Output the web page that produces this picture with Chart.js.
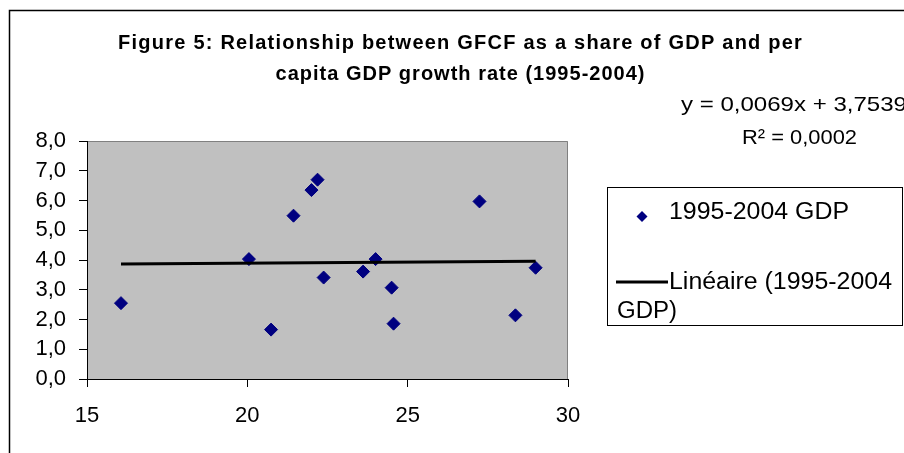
<!DOCTYPE html>
<html><head><meta charset="utf-8">
<script src="https://cdn.jsdelivr.net/npm/chart.js@4.4.1/dist/chart.umd.min.js"></script>
<style>html,body{margin:0;padding:0;background:#fff;}canvas{display:block;}</style>
</head><body>
<canvas id="c" width="904" height="453"></canvas>
<script>
// ---- data ----
const gfcfShare = [16.06, 20.05, 20.74, 21.44, 22.00, 22.19, 22.38, 23.61, 24.00, 24.50, 24.56, 27.24, 28.36, 28.99];
const gdpGrowth = [2.55, 4.03, 1.66, 5.49, 6.35, 6.70, 3.41, 3.61, 4.03, 3.07, 1.86, 5.97, 2.14, 3.74];
const xTicks = [15, 20, 25, 30];
const yTicks = [0, 1, 2, 3, 4, 5, 6, 7, 8];
const trendSlope = 0.0069;
const trendIntercept = 3.7539;
const titleLines = ['Figure 5: Relationship between GFCF as a share of GDP and per', 'capita GDP growth rate (1995-2004)'];
const seriesName = '1995-2004 GDP';
const trendNameLines = ['Linéaire (1995-2004', 'GDP)'];
const equationText = 'y = 0,0069x + 3,7539';
const r2Text = 'R² = 0,0002';

const points = gfcfShare.map((x, i) => ({x: x, y: gdpGrowth[i]}));
const xMin = Math.min(...gfcfShare), xMax = Math.max(...gfcfShare);
const trendPoints = [xMin, xMax].map(x => ({x: x, y: trendSlope * x + trendIntercept}));
const fmt = v => Number(v).toFixed(1).replace('.', ',');

function drawStretched(ctx, text, x, y, font, targetW) {
  ctx.save();
  ctx.font = font;
  const w = ctx.measureText(text).width;
  const sx = targetW ? targetW / w : 1;
  ctx.translate(x, y);
  ctx.scale(sx, 1);
  ctx.textAlign = 'left';
  ctx.textBaseline = 'alphabetic';
  ctx.fillText(text, 0, 0);
  ctx.restore();
}
function drawSpaced(ctx, text, cx, y, font, targetW) {
  ctx.save();
  ctx.font = font;
  ctx.letterSpacing = '0px';
  const w = ctx.measureText(text).width;
  const ls = (targetW - w) / text.length;
  ctx.letterSpacing = ls + 'px';
  const w2 = ctx.measureText(text).width;
  ctx.textAlign = 'left';
  ctx.textBaseline = 'alphabetic';
  ctx.fillText(text, cx - w2 / 2 + ls / 2, y);
  ctx.restore();
}

const decor = {
  id: 'decor',
  beforeDraw(chart) {
    const {ctx, chartArea: a} = chart;
    ctx.save();
    ctx.fillStyle = '#fff';
    ctx.fillRect(0, 0, chart.width, chart.height);
    ctx.fillStyle = '#C0C0C0';
    ctx.fillRect(a.left, a.top, a.right - a.left, a.bottom - a.top);
    ctx.strokeStyle = '#808080';
    ctx.lineWidth = 1;
    ctx.beginPath();
    ctx.moveTo(a.left, a.top + 0.5);
    ctx.lineTo(a.right - 0.5, a.top + 0.5);
    ctx.lineTo(a.right - 0.5, a.bottom);
    ctx.stroke();
    ctx.strokeStyle = '#000';
    ctx.lineWidth = 1.5;
    ctx.beginPath();
    ctx.moveTo(9.5, chart.height);
    ctx.lineTo(9.5, 10.5);
    ctx.lineTo(chart.width, 10.5);
    ctx.stroke();
    ctx.restore();
  },
  afterDraw(chart) {
    const ctx = chart.ctx;
    ctx.save();
    ctx.fillStyle = '#000';
    const tf = 'bold 20px "Liberation Sans", Arial, sans-serif';
    drawSpaced(ctx, titleLines[0], 460, 49, tf, 685);
    drawSpaced(ctx, titleLines[1], 460, 80, tf, 370);
    const rf = '21px "Liberation Sans", Arial, sans-serif';
    drawStretched(ctx, equationText, 681, 111, rf, 226);
    drawStretched(ctx, r2Text, 742, 144, rf, 115);
    // legend box
    ctx.strokeStyle = '#000';
    ctx.lineWidth = 1;
    ctx.strokeRect(607.5, 187.5, 295, 138);
    const lf = '23px "Liberation Sans", Arial, sans-serif';
    // marker
    const mx = 642, my = 216.5, mr = 5.5;
    ctx.fillStyle = '#000080';
    ctx.beginPath();
    ctx.moveTo(mx - mr, my); ctx.lineTo(mx, my - mr); ctx.lineTo(mx + mr, my); ctx.lineTo(mx, my + mr);
    ctx.closePath();
    ctx.fill();
    ctx.fillStyle = '#000';
    drawStretched(ctx, seriesName, 669, 219, lf, 180);
    ctx.strokeStyle = '#000';
    ctx.lineWidth = 3;
    ctx.beginPath();
    ctx.moveTo(616, 282); ctx.lineTo(668, 282);
    ctx.stroke();
    drawStretched(ctx, trendNameLines[0], 669, 289, lf, 223);
    drawStretched(ctx, trendNameLines[1], 617, 318, lf, 60);
    ctx.restore();
  }
};

new Chart(document.getElementById('c'), {
  type: 'scatter',
  data: {
    datasets: [
      {
        type: 'line',
        label: 'Linéaire (1995-2004 GDP)',
        data: trendPoints,
        borderColor: '#000',
        borderWidth: 3,
        pointRadius: 0,
        fill: false,
        tension: 0
      },
      {
        label: seriesName,
        data: points,
        pointStyle: 'rectRot',
        pointRadius: 6.5,
        pointHoverRadius: 6.5,
        backgroundColor: '#000080',
        borderColor: '#000080',
        borderWidth: 1
      }
    ]
  },
  options: {
    responsive: false,
    animation: false,
    devicePixelRatio: 1,
    layout: {padding: {left: 0, top: 141, right: 336, bottom: 0}},
    plugins: {legend: {display: false}, title: {display: false}, tooltip: {enabled: false}},
    scales: {
      x: {
        type: 'linear',
        min: xTicks[0], max: xTicks[xTicks.length - 1],
        afterBuildTicks: s => { s.ticks = xTicks.map(v => ({value: v})); },
        afterFit: s => { s.height = 74; },
        ticks: {color: '#000', font: {family: '"Liberation Sans", Arial, sans-serif', size: 22}, padding: 16, maxRotation: 0},
        grid: {drawOnChartArea: false, drawTicks: true, tickLength: 8, color: '#000'},
        border: {display: true, color: '#000', width: 1}
      },
      y: {
        type: 'linear',
        min: yTicks[0], max: yTicks[yTicks.length - 1],
        afterBuildTicks: s => { s.ticks = yTicks.map(v => ({value: v})); },
        afterFit: s => { s.width = 87; },
        ticks: {color: '#000', font: {family: '"Liberation Sans", Arial, sans-serif', size: 22}, padding: 13, callback: v => fmt(v)},
        grid: {drawOnChartArea: false, drawTicks: true, tickLength: 8, color: '#000'},
        border: {display: true, color: '#000', width: 1}
      }
    }
  },
  plugins: [decor]
});
</script>
</body></html>
